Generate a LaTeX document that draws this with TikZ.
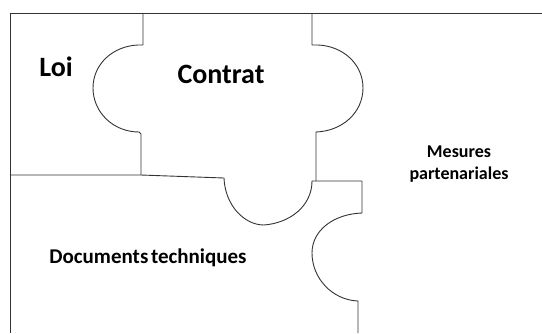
\documentclass[tikz,border=0pt]{standalone}
\usepackage{fontspec}
\setmainfont{Carlito}
\begin{document}
\begin{tikzpicture}[x=1pt,y=-1pt,
  edge/.style={draw=black!80,line width=0.9pt,line join=round},
  lbl/.style={font=\bfseries,inner sep=0pt,anchor=base,align=center}]
\useasboundingbox (0,0) rectangle (542,333);
% outer frame
\draw[edge] (10,333) -- (10,13) -- (542,13);
% Contrat left edge with tab
\draw[edge] (143,13) -- (143,45) -- (138,45)
  .. controls (113,46) and (93,64) .. (93,88)
  .. controls (93,112) and (113,132) .. (139,132) -- (141,134) -- (141,175);
% horizontal separation
\draw[edge] (10,175) -- (141,175) -- (224,178);
% Contrat bottom tab
\draw[edge] (224,178) .. controls (225,205) and (244,225) .. (264,225)
  .. controls (290,223) and (312,206) .. (312,181) -- (362,181);
% Contrat right edge with tab
\draw[edge] (312,13) -- (312,45) -- (318,45)
  .. controls (343,46) and (363,64) .. (363,88)
  .. controls (363,112) and (343,131) .. (316,132) -- (316,181);
% Mesures tab
\draw[edge] (362,181) -- (362,213)
  .. controls (334,214) and (312,230) .. (312,253)
  .. controls (312,278) and (332,300) .. (358,301) -- (358,333);
% labels
\node[lbl,font=\bfseries\fontsize{28}{30}\selectfont] (loi) at (56,76) {Loi};
\node[lbl,font=\bfseries\fontsize{28}{30}\selectfont] (contrat) at (221,83) {Contrat};
\node[lbl,font=\bfseries\fontsize{21}{24}\selectfont] (docs) at (148,263) {Documents\hspace{-0.1em} techniques};
\node[lbl,font=\bfseries\fontsize{18}{22}\selectfont] (mes) at (459,157) {Mesures};
\node[lbl,font=\bfseries\fontsize{18}{22}\selectfont] (part) at (459,179) {partenariales};
\end{tikzpicture}
\end{document}
